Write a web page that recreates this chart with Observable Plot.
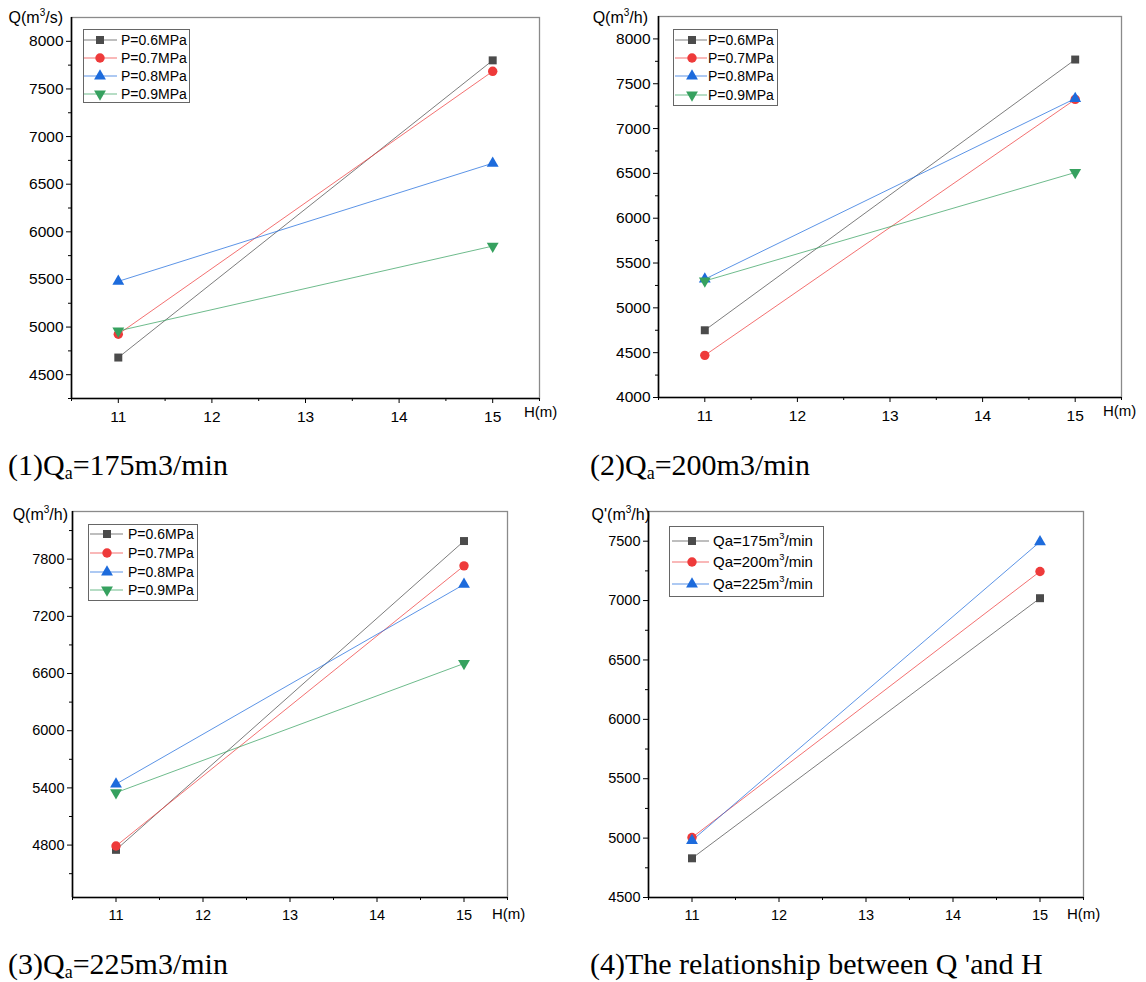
<!DOCTYPE html>
<html><head><meta charset="utf-8">
<script src="https://cdn.jsdelivr.net/npm/d3@7"></script>
<script src="https://cdn.jsdelivr.net/npm/@observablehq/plot@0.6"></script>
<style>
body{margin:0;background:#fff;}
#page{position:relative;width:1146px;height:982px;overflow:hidden;font-family:"Liberation Sans",Arial,sans-serif;}
.cap{position:absolute;font-family:"Liberation Serif","Times New Roman",serif;font-size:30px;line-height:30px;color:#000;white-space:nowrap;}
.cap sub{font-size:18px;vertical-align:baseline;position:relative;top:4px;}
.lab{position:absolute;font-size:16px;line-height:16px;color:#000;white-space:nowrap;}
.lab sup{font-size:10px;vertical-align:baseline;position:relative;top:-7px;}
</style></head><body><div id="page"></div>
<script>
// ---------------- data ----------------
const H = [11, 15];
const xTicks = [11, 12, 13, 14, 15];
const xMinorTicks = [10.5, 11.5, 12.5, 13.5, 14.5, 15.5];
const seriesP = ["P=0.6MPa", "P=0.7MPa", "P=0.8MPa", "P=0.9MPa"];
const seriesQa = ["Qa=175m^3/min", "Qa=200m^3/min", "Qa=225m^3/min"];

// panel 1: Qa=175 m3/min
const q1_P06 = [4680, 7800];
const q1_P07 = [4925, 7685];
const q1_P08 = [5480, 6720];
const q1_P09 = [4960, 5850];
// panel 2: Qa=200 m3/min
const q2_P06 = [4750, 7770];
const q2_P07 = [4470, 7325];
const q2_P08 = [5320, 7335];
const q2_P09 = [5300, 6510];
// panel 3: Qa=225 m3/min
const q3_P06 = [4750, 7990];
const q3_P07 = [4790, 7730];
const q3_P08 = [5440, 7535];
const q3_P09 = [5350, 6705];
// panel 4: Q' vs H
const q4_Qa175 = [4830, 7020];
const q4_Qa200 = [5005, 7245];
const q4_Qa225 = [4980, 7495];

// y tick labels
const y1Ticks = [4500, 5000, 5500, 6000, 6500, 7000, 7500, 8000];
const y2Ticks = [4000, 4500, 5000, 5500, 6000, 6500, 7000, 7500, 8000];
const y3Ticks = [4800, 5400, 6000, 6600, 7200, 7800];
const y4Ticks = [4500, 5000, 5500, 6000, 6500, 7000, 7500];
const y1Minor = [4250, 4750, 5250, 5750, 6250, 6750, 7250, 7750];
const y2Minor = [4250, 4750, 5250, 5750, 6250, 6750, 7250, 7750];
const y3Minor = [4500, 5100, 5700, 6300, 6900, 7500, 8100];
const y4Minor = [4750, 5250, 5750, 6250, 6750, 7250];

const captions = [
  ["(1)Q", "a", "=175m3/min"],
  ["(2)Q", "a", "=200m3/min"],
  ["(3)Q", "a", "=225m3/min"],
  ["(4)The relationship between Q 'and H", "", ""]
];
const yLabels = ["Q(m^3/s)", "Q(m^3/h)", "Q(m^3/h)", "Q'(m^3/h)"];

// ---------------- style ----------------
const colors = ["#4b4b4b", "#ee3a3a", "#1d6bdc", "#36a15f"];
const triDown = {
  draw(ctx, size) {
    const y = -Math.sqrt(size / (Math.sqrt(3) * 3));
    ctx.moveTo(0, -y * 2);
    ctx.lineTo(-Math.sqrt(3) * y, y);
    ctx.lineTo(Math.sqrt(3) * y, y);
    ctx.closePath();
  }
};
const symbols = [d3.symbolSquare, d3.symbolCircle, d3.symbolTriangle, triDown];
const radii = [4.5, 4.7, 4.4, 4.4];
const xDom = [10.5, 15.5];

const page = document.getElementById("page");

function supHTML(s) {
  return s.replace(/\^3/g, "<sup>3</sup>");
}

function panel(cfg) {
  const data = cfg.series.flatMap((s, i) => H.map((h, j) => ({H: h, Q: cfg.values[i][j], s, i})));
  const marks = [
    Plot.frame({stroke: "#8a8a8a", strokeWidth: 1.3}),
    Plot.ruleX([xDom[0]], {stroke: "#000", strokeWidth: 1.6}),
    Plot.ruleY([cfg.yDomain[0]], {stroke: "#000", strokeWidth: 1.6}),
    Plot.axisX(xTicks, {anchor: "bottom", tickSize: 5, tickPadding: 7, label: null, tickFormat: "d", fontSize: cfg.fs}),
    Plot.axisX(xMinorTicks, {anchor: "bottom", tickSize: 3, text: null, label: null}),
    Plot.axisY(cfg.yTicks, {anchor: "left", tickSize: 5, tickPadding: 3, label: null, tickFormat: "d", fontSize: cfg.fs}),
    Plot.axisY(cfg.yMinor, {anchor: "left", tickSize: 3, text: null, label: null})
  ];
  cfg.series.forEach((s, i) => {
    marks.push(Plot.line(data.filter(d => d.i === i), {x: "H", y: "Q", stroke: colors[i], strokeOpacity: 0.72, strokeWidth: 1}));
  });
  cfg.series.forEach((s, i) => {
    marks.push(Plot.dot(data.filter(d => d.i === i), {x: "H", y: "Q", symbol: symbols[i], fill: colors[i], r: radii[i], stroke: "none"}));
  });
  const svg = Plot.plot({
    width: cfg.width, height: cfg.height,
    marginTop: cfg.m[0], marginRight: cfg.m[1], marginBottom: cfg.m[2], marginLeft: cfg.m[3],
    x: {domain: xDom, label: null},
    y: {domain: cfg.yDomain, label: null},
    style: {fontFamily: "'Liberation Sans', Arial, sans-serif", fontSize: cfg.fs + "px", background: "transparent", overflow: "visible", color: "#000"},
    marks
  });
  svg.style.position = "absolute";
  svg.style.left = cfg.left + "px";
  svg.style.top = cfg.top + "px";
  page.appendChild(svg);

  // legend
  const L = cfg.legend;
  const lg = d3.select(page).append("svg")
    .style("position", "absolute").style("left", L.x + "px").style("top", L.y + "px")
    .attr("width", L.w).attr("height", L.h)
    .style("font-family", "'Liberation Sans', Arial, sans-serif");
  lg.append("rect").attr("x", 0.5).attr("y", 0.5).attr("width", L.w - 1).attr("height", L.h - 1)
    .attr("fill", "#fff").attr("stroke", "#666").attr("stroke-width", 1);
  cfg.series.forEach((s, i) => {
    const cy = L.rows[i];
    lg.append("line").attr("x1", L.l0).attr("x2", L.l1).attr("y1", cy).attr("y2", cy)
      .attr("stroke", colors[i]).attr("stroke-opacity", 0.72).attr("stroke-width", 1);
    lg.append("path").attr("transform", `translate(${L.mx},${cy})`)
      .attr("d", d3.symbol(symbols[i], Math.PI * radii[i] * radii[i])())
      .attr("fill", colors[i]);
    const t = lg.append("text").attr("x", L.tx).attr("y", cy).attr("dy", "0.36em")
      .attr("font-size", L.fs).attr("fill", "#000");
    const parts = s.split("^3");
    t.append("tspan").text(parts[0]);
    if (parts.length > 1) {
      t.append("tspan").attr("font-size", L.fs * 0.62).attr("dy", "-0.75em").text("3");
      t.append("tspan").attr("dy", (L.fs * 0.62 * 0.75) + "px").text(parts[1]);
    }
  });

  // axis labels
  const yl = document.createElement("div");
  yl.className = "lab";
  yl.innerHTML = supHTML(cfg.ylab);
  yl.style.right = (1146 - cfg.ylabPos[0]) + "px";
  yl.style.top = (cfg.ylabPos[1] - 8) + "px";
  page.appendChild(yl);
  const xl = document.createElement("div");
  xl.className = "lab";
  xl.style.fontSize = "15px";
  xl.textContent = "H(m)";
  xl.style.left = cfg.xlabPos[0] + "px";
  xl.style.top = (cfg.xlabPos[1] - 8) + "px";
  page.appendChild(xl);

  // caption
  const c = document.createElement("div");
  c.className = "cap";
  c.innerHTML = cfg.cap[0] + (cfg.cap[1] ? "<sub>" + cfg.cap[1] + "</sub>" : "") + cfg.cap[2];
  c.style.left = cfg.capPos[0] + "px";
  c.style.top = (cfg.capPos[1] - 24) + "px";
  page.appendChild(c);
}

panel({
  left: 0, top: 0, width: 560, height: 440, m: [17, 21, 42, 71],
  yDomain: [4250, 8250], yTicks: y1Ticks, yMinor: y1Minor, fs: 15.5,
  series: seriesP, values: [q1_P06, q1_P07, q1_P08, q1_P09],
  legend: {x: 83, y: 29, w: 107, h: 74, rows: [11, 29, 47, 65], l0: 1, l1: 34, mx: 17, tx: 38, fs: 14},
  ylab: yLabels[0], ylabPos: [63, 18], xlabPos: [524, 412],
  cap: captions[0], capPos: [8, 474]
});
panel({
  left: 580, top: 0, width: 566, height: 440, m: [16, 25, 43, 78],
  yDomain: [4000, 8250], yTicks: y2Ticks, yMinor: y2Minor, fs: 15.5,
  series: seriesP, values: [q2_P06, q2_P07, q2_P08, q2_P09],
  legend: {x: 673, y: 29, w: 105, h: 77, rows: [11, 29, 47, 66], l0: 2, l1: 34, mx: 19, tx: 35, fs: 14},
  ylab: yLabels[1], ylabPos: [648, 18], xlabPos: [1103, 411],
  cap: captions[1], capPos: [590, 474]
});
panel({
  left: 0, top: 490, width: 560, height: 440, m: [21, 53, 33, 72],
  yDomain: [4250, 8300], yTicks: y3Ticks, yMinor: y3Minor, fs: 14.5,
  series: seriesP, values: [q3_P06, q3_P07, q3_P08, q3_P09],
  legend: {x: 88, y: 524, w: 110, h: 77, rows: [10, 29, 48, 66], l0: 2, l1: 35, mx: 19, tx: 40, fs: 14},
  ylab: yLabels[2], ylabPos: [68, 515], xlabPos: [492, 914],
  cap: captions[2], capPos: [8, 973]
});
panel({
  left: 580, top: 490, width: 566, height: 440, m: [21, 63, 33, 68],
  yDomain: [4500, 7750], yTicks: y4Ticks, yMinor: y4Minor, fs: 14.5,
  series: seriesQa, values: [q4_Qa175, q4_Qa200, q4_Qa225],
  legend: {x: 669, y: 526, w: 155, h: 71, rows: [15, 36, 58], l0: 3, l1: 40, mx: 23, tx: 44, fs: 15},
  ylab: yLabels[3], ylabPos: [650, 515], xlabPos: [1067, 914],
  cap: captions[3], capPos: [590, 973]
});
</script>
</body></html>
